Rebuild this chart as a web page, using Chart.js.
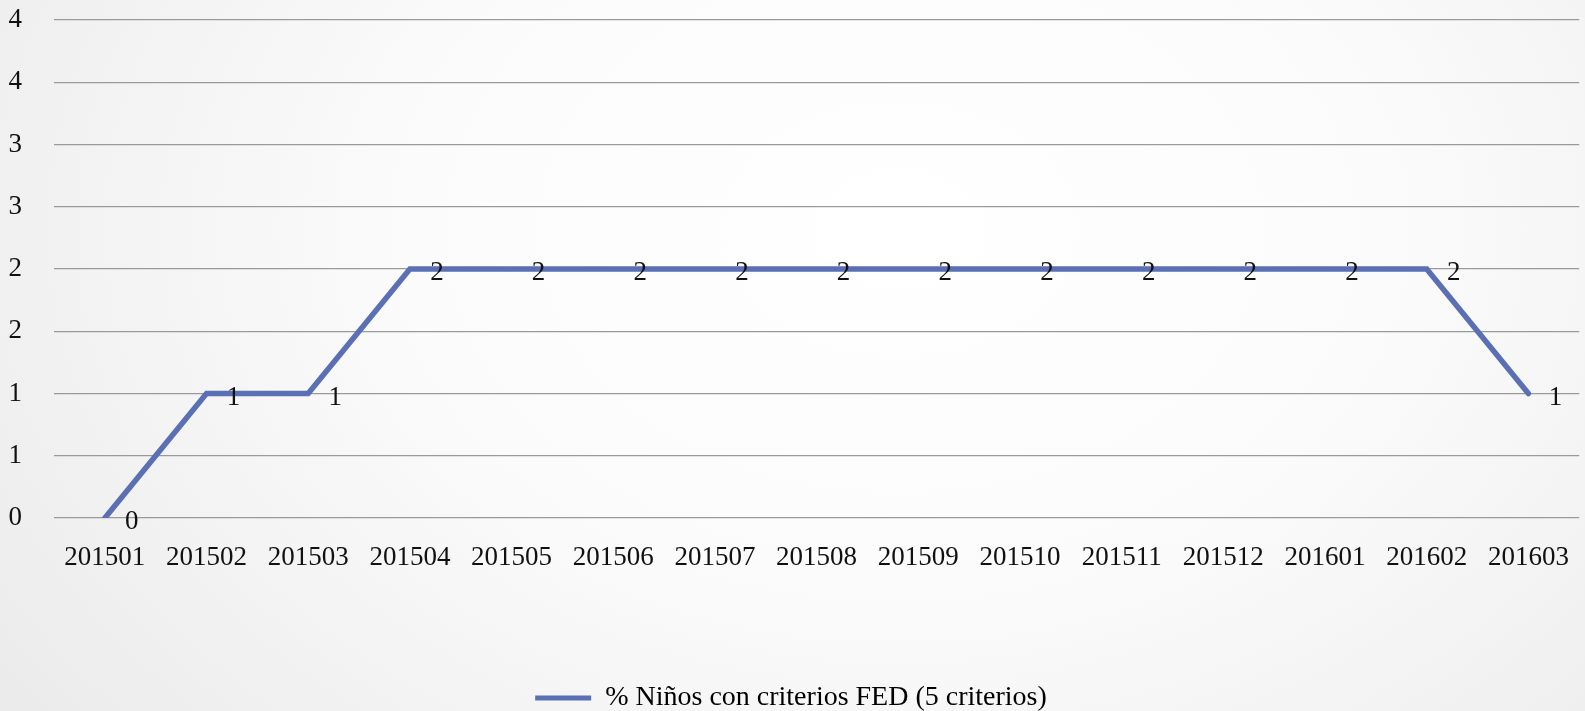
<!DOCTYPE html>
<html>
<head>
<meta charset="utf-8">
<script src="https://cdn.jsdelivr.net/npm/chart.js@4.4.1/dist/chart.umd.min.js"></script>
<style>
  html, body { margin: 0; padding: 0; }
  body {
    width: 1585px; height: 711px; overflow: hidden;
    background: radial-gradient(ellipse 1100px 800px at 900px 230px, #ffffff 0%, #fbfbfb 45%, #ebebeb 100%);
  }
  canvas { display: block; }
</style>
</head>
<body>
<canvas id="chart" width="1585" height="711"></canvas>
<script>
// datos del grafico
const periodos = ["201501", "201502", "201503", "201504", "201505", "201506", "201507", "201508",
                  "201509", "201510", "201511", "201512", "201601", "201602", "201603"];
const valores = [0, 1, 1, 2, 2, 2, 2, 2, 2, 2, 2, 2, 2, 2, 1];
const serieNombre = "% Niños con criterios FED (5 criterios)";

const fuente = "'Liberation Serif', 'DejaVu Serif', serif";
const colorLinea = "#5b6fb4";

// etiquetas de datos a la derecha de cada punto
const etiquetas = {
    id: "etiquetas",
    afterDatasetsDraw(chart) {
        const ctx = chart.ctx;
        const meta = chart.getDatasetMeta(0);
        ctx.save();
        ctx.font = "27px " + fuente;
        ctx.fillStyle = "#111";
        ctx.textAlign = "center";
        ctx.textBaseline = "middle";
        meta.data.forEach(function (p, i) {
            ctx.fillText(Math.round(valores[i]).toString(), p.x + 27, p.y + 4);
        });
        ctx.restore();
    }
};

var ctx = document.getElementById("chart").getContext("2d");
var myChart = new Chart(ctx, {
    type: "line",
    data: {
        labels: periodos,
        datasets: [
            {
                label: serieNombre,
                data: valores,
                borderColor: colorLinea,
                backgroundColor: colorLinea,
                borderWidth: 5.5,
                pointRadius: 0,
                tension: 0,
                borderCapStyle: "round",
                borderJoinStyle: "miter"
            }
        ]
    },
    options: {
        responsive: false,
        animation: false,
        devicePixelRatio: 1,
        layout: { padding: { top: 20, right: 3, left: 0, bottom: -11 } },
        scales: {
            x: {
                offset: true,
                grid: { display: false },
                border: { display: false },
                ticks: { color: "#111", font: { family: fuente, size: 27 }, maxRotation: 0, autoSkip: false, padding: 16 },
                afterFit: function (scale) { scale.height = 166; }
            },
            y: {
                min: 0,
                max: 4,
                border: { display: false },
                grid: { color: "#9a9a9a", lineWidth: 1.3, drawTicks: false },
                ticks: {
                    stepSize: 0.5,
                    color: "#111",
                    font: { family: fuente, size: 27 },
                    padding: 32,
                    callback: function (v) { return Math.round(v).toString(); }
                },
                afterFit: function (scale) {
                    scale.width = 54;
                    scale.paddingTop = 0;
                    scale.paddingBottom = 0;
                }
            }
        },
        plugins: {
            legend: {
                position: "bottom",
                labels: {
                    color: "#111",
                    font: { family: fuente, size: 28 },
                    boxWidth: 56,
                    boxHeight: 5,
                    padding: 0,
                    generateLabels: function (chart) {
                        return [{
                            text: serieNombre,
                            fillStyle: colorLinea,
                            strokeStyle: colorLinea,
                            lineWidth: 0,
                            datasetIndex: 0
                        }];
                    }
                }
            },
            tooltip: { enabled: false }
        }
    },
    plugins: [etiquetas]
});
</script>
</body>
</html>
